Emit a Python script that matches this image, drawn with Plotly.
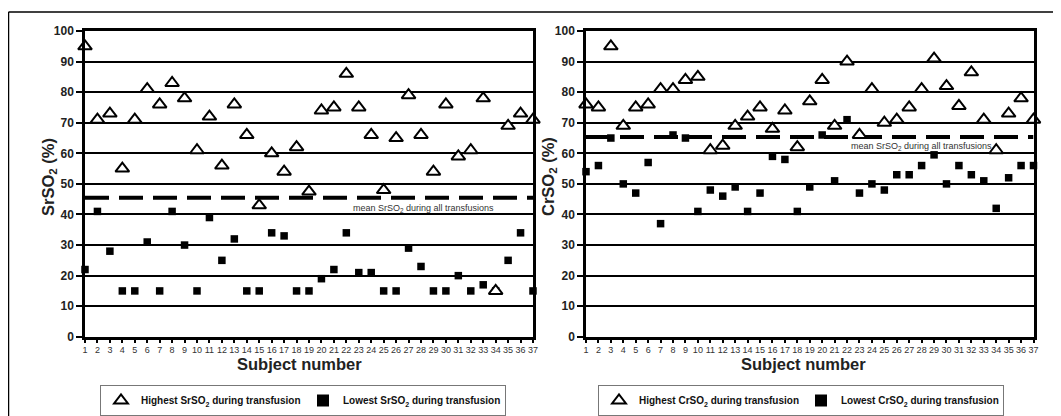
import plotly.graph_objects as go

subjects = list(range(1, 38))
tick_labels = [str(s) for s in subjects]

sr_high = [95, 71, 73, 55, 71, 81, 76, 83, 78, 61, 72, 56, 76, 66, 43, 60, 54, 62, 47.5,
           74, 75, 86, 75, 66, 48, 65, 79, 66, 54, 76, 59, 61, 78, 15, 69, 73, 71]
sr_low = [22, 41, 28, 15, 15, 31, 15, 41, 30, 15, 39, 25, 32, 15, 15, 34, 33, 15, 15,
          19, 22, 34, 21, 21, 15, 15, 29, 23, 15, 15, 20, 15, 17, 15, 25, 34, 15]
sr_mean = 45.5

cr_high = [76, 75, 95, 69, 75, 76, 81, 81, 84, 85, 61, 62.5, 69, 72, 75, 68, 74, 62, 77,
           84, 69, 90, 66, 81, 70, 71, 75, 81, 91, 82, 75.5, 86.5, 71, 61, 73, 78, 71]
cr_low = [54, 56, 65, 50, 47, 57, 37, 66, 65, 41, 48, 46, 49, 41, 47, 59, 58, 41, 49,
          66, 51, 71, 47, 50, 48, 53, 53, 56, 59.5, 50, 56, 53, 51, 42, 52, 56, 56]
cr_mean = 65.3

W, H = 1061, 416
OFF = 8  # page body margin offset in the browser
FONT = "Arial, Liberation Sans, sans-serif"

def px_x(p):
    return (p - OFF) / W

def px_y(p):
    return (H - (p - OFF)) / H

fig = go.Figure()

def add_panel(xa, ya, high, low, mean, name_hi, name_lo, legend):
    fig.add_trace(go.Scatter(x=[subjects[0], subjects[-1]], y=[mean, mean], mode="lines",
                             line=dict(color="black", width=4, dash="24px,10px"),
                             xaxis=xa, yaxis=ya, showlegend=False, hoverinfo="skip",
                             cliponaxis=False))
    fig.add_trace(go.Scatter(x=subjects, y=low, mode="markers", name=name_lo,
                             marker=dict(symbol="square", size=7.5, color="black",
                                         line=dict(width=0)),
                             xaxis=xa, yaxis=ya, legend=legend, cliponaxis=False,
                             legendrank=2))
    fig.add_trace(go.Scatter(x=subjects, y=high, mode="markers", name=name_hi,
                             marker=dict(symbol="triangle-up", size=12, color="white",
                                         line=dict(width=2, color="black")),
                             xaxis=xa, yaxis=ya, legend=legend, cliponaxis=False,
                             legendrank=1))

add_panel("x", "y", sr_high, sr_low, sr_mean,
          "Highest SrSO<sub>2</sub> during transfusion",
          "Lowest SrSO<sub>2</sub> during transfusion", "legend")
add_panel("x2", "y2", cr_high, cr_low, cr_mean,
          "Highest CrSO<sub>2</sub> during transfusion",
          "Lowest CrSO<sub>2</sub> during transfusion", "legend2")

ydom = [px_y(336.8), px_y(31)]
xdom1 = [px_x(85), px_x(533)]
xdom2 = [px_x(586), px_x(1033.5)]

xaxis_common = dict(range=[1, 37], tickmode="array", tickvals=subjects, ticktext=tick_labels,
                    ticks="outside", ticklen=3, tickwidth=1.5, tickcolor="black",
                    showline=True, linecolor="black", linewidth=2.5, mirror=True,
                    showgrid=False, zeroline=False, automargin=False,
                    tickfont=dict(family=FONT, size=9, color="#333333"))
yaxis_common = dict(range=[0, 100], tickmode="linear", tick0=0, dtick=10,
                    ticks="outside", ticklen=6, tickwidth=2, tickcolor="black",
                    showline=True, linecolor="black", linewidth=2.5, mirror=True,
                    showgrid=True, gridcolor="black", gridwidth=2, zeroline=False,
                    automargin=False,
                    tickfont=dict(family=FONT, size=12, color="#222222", weight="bold"))

legend_common = dict(orientation="h", bgcolor="white", bordercolor="#777777", borderwidth=1,
                     font=dict(family=FONT, size=10, color="#111111", weight="bold"),
                     xanchor="left", yanchor="top", entrywidth=157, entrywidthmode="pixels",
                     itemsizing="constant", tracegroupgap=0, traceorder="normal")

fig.update_layout(
    width=W, height=H, autosize=False,
    margin=dict(l=0, r=0, t=0, b=0, pad=0, autoexpand=False),
    paper_bgcolor="white", plot_bgcolor="white",
    xaxis=dict(domain=xdom1, anchor="y", **xaxis_common),
    yaxis=dict(domain=ydom, anchor="x", **yaxis_common),
    xaxis2=dict(domain=xdom2, anchor="y2", **xaxis_common),
    yaxis2=dict(domain=ydom, anchor="x2", **yaxis_common),
    legend=dict(x=px_x(100), y=px_y(385), **legend_common),
    legend2=dict(x=px_x(598), y=px_y(385), **legend_common),
    showlegend=True,
)

title_font = dict(family=FONT, size=16.5, color="#222", weight="bold")
annots = [
    dict(text="SrSO<sub>2</sub> (%)", x=px_x(49), y=px_y(177), xref="paper", yref="paper",
         xanchor="center", yanchor="middle", textangle=-90, showarrow=False, font=title_font),
    dict(text="CrSO<sub>2</sub> (%)", x=px_x(549), y=px_y(177), xref="paper", yref="paper",
         xanchor="center", yanchor="middle", textangle=-90, showarrow=False, font=title_font),
    dict(text="Subject number", x=px_x(299), y=px_y(364), xref="paper", yref="paper",
         xanchor="center", yanchor="middle", showarrow=False, font=title_font),
    dict(text="Subject number", x=px_x(803), y=px_y(364), xref="paper", yref="paper",
         xanchor="center", yanchor="middle", showarrow=False, font=title_font),
    dict(text="mean SrSO<sub>2</sub> during all transfusions", x=28.2, y=42, xref="x", yref="y",
         xanchor="center", yanchor="middle", showarrow=False,
         font=dict(family=FONT, size=9, color="#333")),
    dict(text="mean SrSO<sub>2</sub> during all transfusions", x=28.0, y=62.1, xref="x2", yref="y2",
         xanchor="center", yanchor="middle", showarrow=False,
         font=dict(family=FONT, size=9, color="#333")),
]
fig.update_layout(annotations=annots)

fig.add_shape(type="line", xref="paper", yref="paper", x0=px_x(8.5), x1=px_x(8.5),
              y0=px_y(12), y1=0, line=dict(color="black", width=1.5))
fig.add_shape(type="line", xref="paper", yref="paper", x0=px_x(8.5), x1=1.0,
              y0=px_y(12), y1=px_y(12), line=dict(color="black", width=1.5))

fig.write_html("out.html")
